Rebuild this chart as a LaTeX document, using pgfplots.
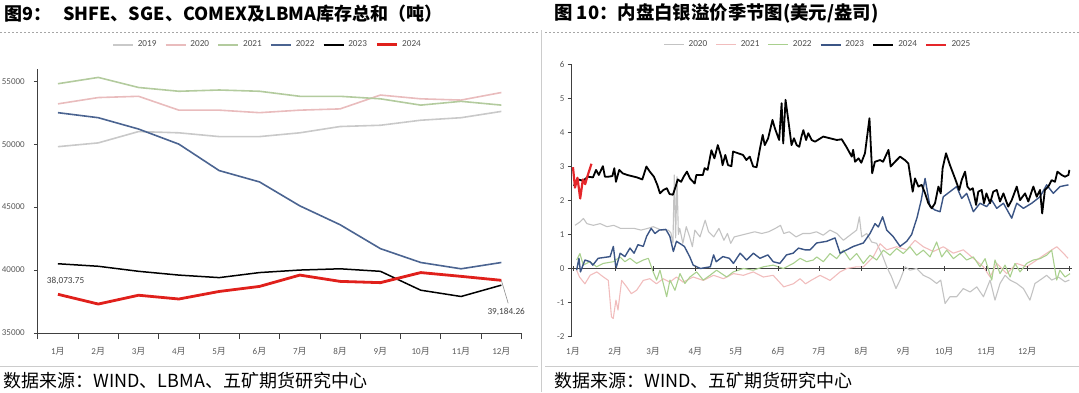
\documentclass[border=0pt]{standalone}
\usepackage{fontspec}
\setmainfont{Carlito}
\newfontfamily\cjk{Noto Sans CJK SC}
\usepackage{pgfplots}
\pgfplotsset{compat=1.18}
\definecolor{Lgray}{HTML}{C9C9C9}
\definecolor{Lpink}{HTML}{E9BCBD}
\definecolor{Lgreen}{HTML}{B3CB9E}
\definecolor{Lblue}{HTML}{4B6491}
\definecolor{Lred}{HTML}{E0201B}
\definecolor{Rgray}{HTML}{C3C3C3}
\definecolor{Rpink}{HTML}{F1BDBD}
\definecolor{Rgreen}{HTML}{A9D08E}
\definecolor{Rblue}{HTML}{3B5585}
\definecolor{Rred}{HTML}{E5262A}
\definecolor{tickc}{HTML}{595959}
\newcommand\yue{{\cjk 月}}
\pgfplotsset{
  common/.style={
    scale only axis, anchor=south west, clip=false,
    axis line style={-, black!75, line width=0.5pt},
    tick label style={font=\fontsize{4.5}{5}\selectfont, text=tickc},
    /pgf/number format/assume math mode=true,
    /pgf/number format/1000 sep={},
    scaled y ticks=false,
    tick align=outside,
    major tick length=2pt,
    tick style={black!75, line width=0.4pt},
    legend image code/.code={\draw[##1] (0pt,0pt) -- (10pt,0pt);},
    legend style={draw=none, fill=none, legend columns=-1,
      font=\fontsize{4.6}{5}\selectfont, text=black!70, inner sep=0pt,
      /tikz/every even column/.append style={column sep=2.2pt}},
  }
}
\begin{document}
\begin{tikzpicture}
\path[use as bounding box] (0,0) rectangle (539.5pt,196pt);
\node[anchor=west,inner sep=0pt,font=\cjk\bfseries\fontsize{9}{10}\selectfont] at (2pt,189.25pt) {图9：\hspace{6pt}SHFE、SGE、COMEX及LBMA库存总和（吨）};
\node[anchor=west,inner sep=0pt,font=\cjk\bfseries\fontsize{9.2}{10}\selectfont] at (276.9pt,189.25pt) {图 10：内盘白银溢价季节图(美元/盎司)};
\draw[black!35, dash pattern=on 1pt off 1pt, line width=0.4pt] (0,180pt) -- (269pt,180pt);
\draw[black!35, dash pattern=on 1pt off 1pt, line width=0.4pt] (272.5pt,180pt) -- (539.5pt,180pt);
\draw[black!20, line width=0.5pt] (0,13pt) -- (269pt,13pt);
\draw[black!20, line width=0.5pt] (272.5pt,13pt) -- (539.5pt,13pt);
\draw[black!20, line width=0.4pt] (270.5pt,0) -- (270.5pt,181pt);
\node[anchor=west,inner sep=0pt,font=\cjk\fontsize{9}{10}\selectfont] at (1.5pt,5.75pt) {数据来源：WIND、LBMA、五矿期货研究中心};
\node[anchor=west,inner sep=0pt,font=\cjk\fontsize{9}{10}\selectfont] at (276.9pt,5.75pt) {数据来源：WIND、五矿期货研究中心};

\begin{axis}[common,
  at={(18.9pt,29.5pt)}, width=241.85pt, height=132.2pt,
  xmin=0.5, xmax=12.5, ymin=35000, ymax=56000,
  axis x line*=bottom, axis y line*=left,
  xtick={1,...,12},
  xticklabels={1\yue,2\yue,3\yue,4\yue,5\yue,6\yue,7\yue,8\yue,9\yue,10\yue,11\yue,12\yue},
  major x tick style={draw=none},
  minor xtick={0.5,1.5,...,12.5}, minor tick length=3pt,
  minor x tick style={black!75, line width=0.4pt},
  ytick={35000,40000,45000,50000,55000},
  xticklabel style={yshift=-1.5pt}, yticklabel style={xshift=-1pt},
  legend style={at={(0.477,1.09)}, anchor=center},
]
\addplot[Lgray, line width=0.8pt] coordinates {(1,49800)(2,50100)(3,51000)(4,50900)(5,50600)(6,50600)(7,50900)(8,51400)(9,51500)(10,51900)(11,52100)(12,52600)};
\addlegendentry{2019}
\addplot[Lpink, line width=0.8pt] coordinates {(1,53200)(2,53700)(3,53800)(4,52700)(5,52700)(6,52500)(7,52700)(8,52800)(9,53900)(10,53600)(11,53500)(12,54100)};
\addlegendentry{2020}
\addplot[Lgreen, line width=0.8pt] coordinates {(1,54800)(2,55300)(3,54500)(4,54200)(5,54300)(6,54200)(7,53800)(8,53800)(9,53600)(10,53100)(11,53400)(12,53100)};
\addlegendentry{2021}
\addplot[Lblue, line width=0.8pt] coordinates {(1,52500)(2,52100)(3,51200)(4,50000)(5,47900)(6,47000)(7,45100)(8,43600)(9,41700)(10,40600)(11,40100)(12,40600)};
\addlegendentry{2022}
\addplot[black, line width=0.75pt] coordinates {(1,40500)(2,40300)(3,39900)(4,39600)(5,39400)(6,39800)(7,40000)(8,40100)(9,39900)(10,38400)(11,37900)(12,38800)};
\addlegendentry{2023}
\addplot[Lred, line width=1.4pt] coordinates {(1,38073.75)(2,37300)(3,38000)(4,37700)(5,38300)(6,38700)(7,39600)(8,39100)(9,39000)(10,39800)(11,39500)(12,39184.26)};
\addlegendentry{2024}
\node[font=\fontsize{4.6}{5}\selectfont, text=black!75, inner sep=0pt] at (axis cs:1.19,39127) {38,073.75};
\draw[black!45, line width=0.3pt] (axis cs:12,39184.26) -- (axis cs:12.17,37357);
\node[font=\fontsize{4.6}{5}\selectfont, text=black!75, inner sep=0pt] at (axis cs:12.12,36700) {39,184.26};
\end{axis}

\begin{axis}[common,
  at={(285.8pt,27.75pt)}, width=250.24pt, height=136pt,
  xmin=0, xmax=368, ymin=-2, ymax=6,
  axis x line*=bottom, axis y line*=left,
  x axis line style={draw=none},
  xtick={1,32,60,91,121,152,182,213,244,274,305,335},
  xticklabels={1\yue,2\yue,3\yue,4\yue,5\yue,6\yue,7\yue,8\yue,9\yue,10\yue,11\yue,12\yue},
  major x tick style={draw=none},
  ytick={-2,-1,0,1,2,3,4,5,6},
  xticklabel style={yshift=0pt}, yticklabel style={xshift=2pt},
  legend style={at={(0.494,1.072)}, anchor=center},
  line join=round,
]
\addplot[forget plot, black!75, line width=0.5pt] coordinates {(0,0)(368,0)};
\addplot[Rgray, line width=0.55pt] coordinates {(2.5,1.27)(6.2,1.37)(8.7,1.47)(11.2,1.32)(16,1.27)(21,1.32)(26,1.23)(31,1.27)(36,1.18)(41,1.18)(46,1.18)(51,1.13)(56,1.18)(60,1.23)(66,1.13)(71,1.13)(73,1.05)(74.5,0.75)(75.5,2.75)(76.5,0.90)(77.5,2.70)(78.5,1.00)(79.5,1.18)(81.8,0.74)(84.3,1.23)(86.8,0.93)(88.8,0.64)(90.6,1.13)(94.4,0.93)(98.2,1.42)(100.7,1.08)(104.5,0.93)(108.3,1.18)(112,0.83)(114.6,1.03)(117,0.74)(119.6,0.93)(124.6,0.98)(129.6,1.03)(134.7,1.08)(139.8,1.03)(144.8,1.08)(149.8,1.18)(153.6,1.27)(156,1.03)(160,1.08)(165,0.93)(170,1.03)(175.3,1.03)(180,1.08)(185,0.98)(190,1.13)(195,1.03)(199.8,0.83)(204.7,0.98)(209.6,1.13)(211.6,1.52)(213.3,0.93)(217,1.03)(220.6,0.78)(224.3,0.74)(228,0.44)(231.7,0.05)(235.3,-0.25)(238.5,-0.59)(241.5,-0.34)(245.2,0.05)(248.8,-0.05)(253.7,0.00)(258.6,-0.20)(263.5,-0.29)(268.4,-0.44)(271.4,-0.34)(274.6,-1.03)(278.2,-0.83)(283.1,-0.83)(288,-0.59)(293,-0.69)(297.9,-0.54)(302.8,-0.83)(307.7,-0.34)(311.3,-0.93)(315,-0.44)(318.7,-0.20)(322.4,-0.34)(327.3,-0.44)(332.2,-0.59)(337,-0.93)(340.7,-0.44)(344.4,-0.34)(349.3,-0.20)(353,-0.34)(357.9,-0.25)(362.8,-0.39)(366,-0.34)};
\addlegendentry{2020}
\addplot[Rpink, line width=0.55pt] coordinates {(3.7,-0.05)(5.8,-0.25)(9.8,-0.45)(13.6,-0.20)(18.5,-0.10)(23.4,-0.25)(27,-0.35)(29.3,-1.42)(30.6,-1.47)(32.6,-0.93)(34.1,-1.22)(36.8,-0.35)(40.5,-0.54)(43.9,-0.74)(47.8,-0.64)(52.7,-0.35)(57.5,-0.30)(62.4,-0.45)(67.3,-0.30)(72.2,-0.40)(77.1,-0.25)(82,-0.40)(89.4,-0.25)(96.8,-0.35)(104.4,-0.20)(111.7,-0.30)(119,-0.15)(126.3,-0.20)(133.6,-0.10)(141,-0.25)(148.2,-0.20)(156,-0.54)(163,-0.45)(168,-0.30)(172,-0.45)(176,-0.35)(182.7,-0.20)(190,-0.35)(197.4,-0.10)(202.3,0.00)(209.6,0.05)(214.5,0.05)(221.9,0.35)(226.8,0.73)(231.7,0.55)(239,0.64)(246.4,0.55)(252.5,0.83)(258.6,0.64)(266,0.50)(273.3,0.64)(280.7,0.45)(288,0.55)(295.4,0.30)(302.8,0.05)(307.7,-0.25)(312.6,0.15)(319.9,-0.15)(327.3,0.15)(334.6,0.05)(342,0.25)(349.3,0.45)(356.7,0.64)(361.6,0.45)(365,0.30)};
\addlegendentry{2021}
\addplot[Rgreen, line width=0.55pt] coordinates {(3.7,0.25)(6.1,0.44)(8.6,0.10)(13.5,0.20)(18.4,0.05)(23.3,0.15)(30.7,0.20)(35.6,0.34)(39.2,0.20)(42.9,0.30)(47.8,0.15)(52.7,0.25)(56.4,0.30)(60,-0.10)(62.5,-0.34)(65,-0.05)(67.4,-0.44)(69.9,-0.83)(72.3,-0.34)(76,-0.64)(79.7,-0.15)(83.3,-0.44)(87,-0.25)(91.9,-0.10)(96.8,-0.34)(101.7,-0.20)(106.6,-0.05)(114,-0.25)(118.9,-0.10)(126.2,0.00)(133.6,-0.05)(141,0.05)(148.3,0.10)(155.7,0.00)(163,0.15)(168,0.30)(172.8,0.20)(177.7,0.25)(180.2,0.34)(185.1,0.20)(190,0.44)(194.9,0.29)(199.8,0.54)(204.7,0.25)(209.6,0.44)(214.5,0.15)(219.4,0.39)(224.3,0.25)(229.2,0.54)(234.1,0.39)(239,0.59)(243.9,0.44)(248.8,0.64)(253.7,0.39)(258.6,0.54)(263.5,0.34)(268.4,0.78)(272.1,0.34)(275.8,0.54)(280.7,0.29)(285.6,0.44)(290.5,0.25)(295.4,0.34)(300.3,0.05)(304,0.29)(308.9,-0.34)(311.3,0.25)(315,-0.15)(318.7,0.10)(322.4,-0.25)(326,0.15)(329.7,-0.10)(334.6,0.15)(339.5,0.25)(344.4,0.29)(349.3,0.39)(353,0.54)(356.7,-0.34)(359,-0.05)(362.8,-0.25)(366.5,-0.15)};
\addlegendentry{2022}
\addplot[forget plot, only marks, mark=|, mark size=1.2pt, black!75, mark options={line width=0.4pt}] coordinates {(1,0)(32,0)(60,0)(91,0)(121,0)(152,0)(182,0)(213,0)(244,0)(274,0)(305,0)(335,0)(366,0)};
\addplot[Rblue, line width=0.7pt] coordinates {(3.7,-0.05)(5.4,0.30)(6.5,-0.10)(9.8,0.25)(13.5,0.20)(15.6,0.10)(19.5,0.30)(28.3,0.35)(30.7,0.65)(32.6,0.00)(35.7,0.45)(39.2,0.35)(42.9,0.60)(45.9,0.45)(48.8,0.70)(52.7,0.65)(55.2,0.95)(58.5,1.18)(61.3,1.03)(64.4,1.13)(69.3,1.15)(72.2,0.95)(74.8,0.50)(77.1,0.80)(82.9,0.65)(86.8,0.35)(89.4,0.10)(94.6,0.00)(102,0.05)(104.4,0.40)(106.3,0.20)(111.2,0.35)(116,0.30)(119,0.15)(123.9,0.45)(128.7,0.25)(133.6,0.45)(138.5,0.30)(144.3,0.40)(148.2,0.20)(153.1,0.15)(158,0.40)(162.9,0.45)(166.8,0.60)(171.6,0.55)(175.3,0.55)(180.2,0.75)(187.6,0.80)(193.7,0.90)(197.4,0.45)(202.3,0.55)(207.2,0.65)(214.5,0.75)(219.4,1.03)(223.1,1.32)(225.5,1.22)(228.7,1.52)(231.7,1.13)(236.6,0.93)(241.5,0.65)(246.4,0.80)(250,1.00)(254,1.50)(257,2.00)(259.9,2.65)(263.5,1.82)(267.2,1.72)(270.9,1.67)(273.3,2.11)(283.1,2.41)(286.8,2.06)(290.5,2.21)(295.4,1.67)(300.3,1.92)(305.2,1.82)(308.9,2.01)(312.6,1.77)(317.5,1.92)(323.6,1.48)(327.3,1.92)(332.2,1.77)(338.3,1.92)(344.4,2.11)(349.3,2.46)(354.2,2.21)(359.1,2.41)(365.3,2.46)};
\addlegendentry{2023}
\addplot[black, line width=0.9pt] coordinates {(1.6,2.43)(4.8,2.62)(8.4,2.58)(12,2.70)(15.7,2.68)(18,2.90)(20,2.75)(23,3.01)(24.5,2.70)(27,2.70)(30,2.72)(31.4,2.95)(32.6,2.55)(35,2.90)(37.5,2.80)(41,2.75)(48,2.68)(52,2.62)(55,3.00)(57.5,2.85)(60.5,2.70)(63,2.46)(65,2.21)(67.5,2.31)(70,2.36)(72,2.19)(74.5,2.17)(76.5,2.41)(78,2.62)(80.5,2.55)(82.4,2.70)(84.8,2.85)(87,2.65)(90.5,2.50)(91.7,2.75)(96.5,2.75)(97.8,2.95)(100,2.90)(102.8,3.48)(105,3.24)(107.5,3.63)(110,3.29)(111,3.04)(113,3.34)(115,3.04)(117.5,3.01)(118.7,3.44)(122.4,3.39)(126,3.34)(128.5,3.19)(131,3.29)(133.5,3.00)(136,2.98)(138.5,3.53)(140.5,3.93)(142,3.63)(144.5,3.83)(147.7,4.37)(149.5,4.12)(152.6,3.78)(154.4,4.86)(155.6,3.68)(157.3,4.96)(159.3,4.37)(161.7,3.63)(163.5,3.83)(165.5,3.63)(167.4,3.58)(169,3.88)(170.4,4.07)(172.4,3.78)(174,3.98)(176.5,3.78)(179,3.73)(185,3.88)(190,3.83)(195,3.78)(198.6,3.80)(202,3.58)(206,3.29)(207,3.49)(208.4,3.14)(211,3.24)(213,3.11)(215.7,3.39)(219,4.42)(221,2.80)(223,3.14)(226.8,3.19)(229,3.14)(233,3.49)(234.6,3.00)(237.8,3.14)(241.5,3.29)(245,3.19)(247.6,3.09)(250.8,2.26)(252.5,2.65)(255,2.41)(257.4,2.46)(259.9,2.21)(262.3,1.92)(264.8,1.77)(267.2,1.92)(269.7,2.41)(271.4,2.21)(272.8,2.95)(275.3,3.39)(278.2,3.04)(281.9,2.65)(285,2.31)(286.8,2.60)(289.3,2.85)(291,2.41)(293,2.31)(295,2.36)(297.4,1.87)(299,2.26)(301.5,2.31)(303.2,1.92)(305,2.21)(307.7,1.92)(310,2.26)(312.6,2.31)(315,1.97)(317.5,2.21)(321,1.82)(323.6,2.01)(327.3,2.41)(329.7,2.01)(333.4,2.21)(335.8,1.97)(339.5,2.41)(342,2.11)(344.4,2.31)(346,1.62)(348,2.31)(350.5,2.41)(353,2.60)(355.4,2.55)(357.2,2.85)(360.3,2.75)(362.8,2.70)(365.3,2.75)(366,2.90)};
\addlegendentry{2024}
\addplot[Rred, line width=1.1pt] coordinates {(1,2.98)(2.5,2.38)(4.3,2.67)(6.3,2.06)(8.3,2.62)(10,2.48)(11.3,2.67)(13.3,2.92)(14.6,3.08)};
\addlegendentry{2025}
\end{axis}
\end{tikzpicture}
\end{document}
